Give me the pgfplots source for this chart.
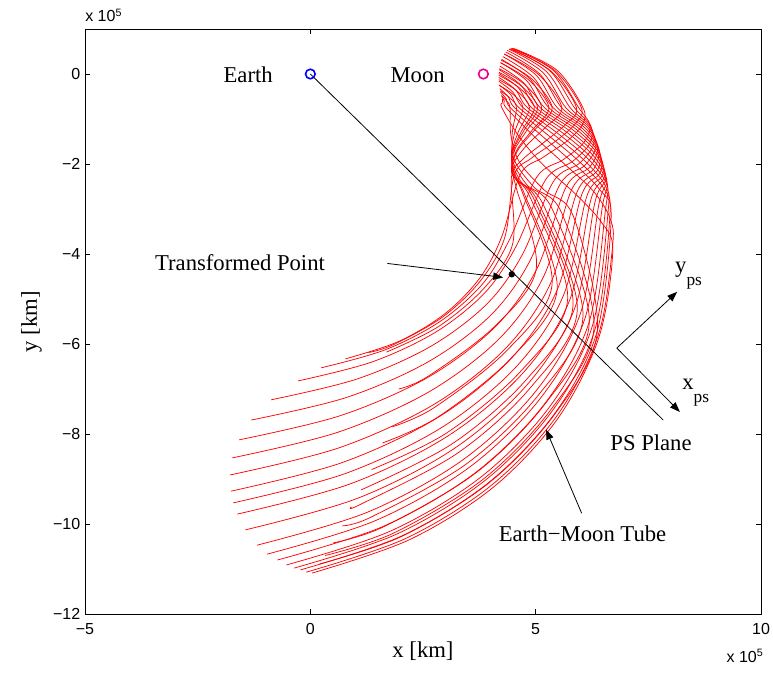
\documentclass[border=0pt]{standalone}
\usepackage{fontspec}
\setmainfont{Liberation Serif}
\setsansfont{Liberation Sans}
\usepackage{pgfplots}
\pgfplotsset{compat=1.18}
\usetikzlibrary{arrows.meta}

\pgfplotsset{
  orb/.style={red, line width=0.55pt, smooth, tension=0.55, no markers},
  ann/.style={black, line width=0.6pt, no markers},
  annarrow/.style={black, line width=0.6pt, no markers, -{Triangle[length=7.5pt,width=5.5pt]}},
}
\newcommand{\lbl}{\fontsize{17}{20}\selectfont}
\newcommand{\sub}[1]{\raisebox{-9.5pt}{\fontsize{13}{13}\selectfont #1}}

\begin{document}
\begin{tikzpicture}
\begin{axis}[
  at={(0pt,0pt)}, anchor=south west,
  scale only axis, width=507pt, height=438.75pt,
  xmin=-5, xmax=10, ymin=-12, ymax=1,
  xtick={-5,0,5,10}, xticklabels={−5,0,5,10},
  ytick={-12,-10,-8,-6,-4,-2,0}, yticklabels={−12,−10,−8,−6,−4,−2,0},
  tick align=inside, major tick length=4pt,
  every tick/.style={black, line width=0.5pt},
  axis line style={black, line width=0.6pt},
  tick label style={font=\fontsize{12}{14}\selectfont\sffamily},
  xticklabel style={yshift=-3.5pt},
  clip=false,
]
% Earth-Moon tube trajectories (units of 1e5 km): outer family
\addplot[orb] coordinates {(4.527,0.562) (5.469,0.086) (6.05,-0.75) (6.04,-1.12) (5.695,-1.49) (5.152,-1.86) (4.66,-2.23) (4.253,-3.6) (3.761,-4.532) (2.982,-5.33) (1.963,-5.942) (0.78,-6.33)};
\addplot[orb] coordinates {(4.487,0.57) (5.391,0.08) (5.955,-0.75) (6.205,-1.134) (6.072,-1.518) (5.615,-1.902) (5.027,-2.286) (4.408,-3.704) (3.818,-4.67) (2.883,-5.496) (1.66,-6.129) (0.24,-6.53)};
\addplot[orb] coordinates {(4.448,0.566) (5.316,0.069) (5.861,-0.75) (6.223,-1.148) (6.201,-1.546) (5.816,-1.944) (5.226,-2.342) (4.564,-3.833) (3.88,-4.853) (2.796,-5.727) (1.377,-6.396) (-0.27,-6.82)};
\addplot[orb] coordinates {(4.409,0.552) (5.24,0.053) (5.766,-0.75) (6.212,-1.162) (6.284,-1.574) (5.969,-1.986) (5.388,-2.398) (4.713,-3.997) (3.923,-5.105) (2.67,-6.053) (1.032,-6.779) (-0.87,-7.24)};
\addplot[orb] coordinates {(4.371,0.526) (5.163,0.03) (5.67,-0.75) (6.186,-1.176) (6.339,-1.602) (6.094,-2.028) (5.539,-2.454) (4.865,-4.169) (3.991,-5.372) (2.606,-6.401) (0.793,-7.19) (-1.31,-7.69)};
\addplot[orb] coordinates {(4.335,0.489) (5.089,0.002) (5.577,-0.75) (6.149,-1.19) (6.377,-1.63) (6.2,-2.07) (5.675,-2.51) (5.023,-4.338) (4.088,-5.633) (2.607,-6.742) (0.669,-7.591) (-1.58,-8.13)};
\addplot[orb] coordinates {(4.302,0.443) (5.015,-0.031) (5.481,-0.75) (6.101,-1.204) (6.399,-1.658) (6.289,-2.112) (5.8,-2.566) (5.178,-4.497) (4.2,-5.874) (2.65,-7.053) (0.623,-7.957) (-1.73,-8.53)};
\addplot[orb] coordinates {(4.272,0.387) (4.944,-0.068) (5.388,-0.75) (6.048,-1.218) (6.41,-1.686) (6.367,-2.154) (5.918,-2.622) (5.331,-4.65) (4.324,-6.105) (2.729,-7.35) (0.642,-8.305) (-1.78,-8.91)};
\addplot[orb] coordinates {(4.245,0.324) (4.873,-0.109) (5.292,-0.75) (5.988,-1.232) (6.406,-1.714) (6.434,-2.196) (6.023,-2.678) (5.478,-4.797) (4.453,-6.325) (2.83,-7.633) (0.705,-8.635) (-1.76,-9.27)};
\addplot[orb] coordinates {(4.222,0.253) (4.805,-0.154) (5.197,-0.75) (5.922,-1.246) (6.394,-1.742) (6.488,-2.238) (6.129,-2.734) (5.617,-4.918) (4.58,-6.493) (2.936,-7.842) (0.786,-8.875) (-1.71,-9.53)};
\addplot[orb] coordinates {(4.204,0.176) (4.739,-0.202) (5.103,-0.75) (5.85,-1.26) (6.371,-1.77) (6.529,-2.28) (6.225,-2.79) (5.75,-5.037) (4.707,-6.657) (3.054,-8.043) (0.891,-9.106) (-1.62,-9.78)};
\addplot[orb] coordinates {(4.191,0.095) (4.676,-0.252) (5.008,-0.75) (5.768,-1.274) (6.336,-1.798) (6.559,-2.322) (6.316,-2.846) (5.875,-5.182) (4.839,-6.872) (3.199,-8.318) (1.052,-9.427) (-1.44,-10.13)};
\addplot[orb] coordinates {(4.183,0.012) (4.614,-0.303) (4.912,-0.75) (5.683,-1.288) (6.288,-1.826) (6.578,-2.364) (6.401,-2.902) (5.992,-5.324) (4.976,-7.082) (3.368,-8.586) (1.263,-9.739) (-1.18,-10.47)};
\addplot[orb] coordinates {(4.18,-0.074) (4.557,-0.355) (4.819,-0.75) (5.588,-1.302) (6.229,-1.854) (6.583,-2.406) (6.478,-2.958) (6.094,-5.429) (5.095,-7.219) (3.513,-8.751) (1.443,-9.925) (-0.96,-10.67)};
\addplot[orb] coordinates {(4.182,-0.161) (4.5,-0.409) (4.723,-0.75) (5.486,-1.316) (6.158,-1.882) (6.575,-2.448) (6.549,-3.014) (6.185,-5.515) (5.206,-7.32) (3.655,-8.865) (1.626,-10.049) (-0.73,-10.8)};
\addplot[orb] coordinates {(4.19,-0.245) (4.448,-0.46) (4.63,-0.75) (5.381,-1.33) (6.068,-1.91) (6.549,-2.49) (6.606,-3.07) (6.259,-5.596) (5.298,-7.411) (3.775,-8.964) (1.783,-10.155) (-0.53,-10.91)};
\addplot[orb] coordinates {(4.202,-0.326) (4.396,-0.51) (4.534,-0.75) (5.256,-1.344) (5.959,-1.938) (6.503,-2.532) (6.649,-3.126) (6.318,-5.666) (5.372,-7.481) (3.874,-9.034) (1.915,-10.225) (-0.36,-10.98)};
\addplot[orb] coordinates {(4.22,-0.403) (4.349,-0.558) (4.439,-0.75) (5.119,-1.358) (5.82,-1.966) (6.424,-2.574) (6.675,-3.182) (6.361,-5.728) (5.429,-7.535) (3.953,-9.082) (2.022,-10.268) (-0.22,-11.02)};
\addplot[orb] coordinates {(4.242,-0.475) (4.304,-0.603) (4.345,-0.75) (4.949,-1.372) (5.63,-1.994) (6.291,-2.616) (6.662,-3.238) (6.703,-3.86) (6.391,-5.792) (5.473,-7.595) (4.02,-9.138) (2.118,-10.32) (-0.09,-11.07)};
\addplot[orb] coordinates {(4.268,-0.54) (4.259,-0.645) (4.25,-0.75) (4.628,-1.386) (5.168,-2.022) (5.874,-2.658) (6.457,-3.294) (6.71,-3.93) (6.404,-5.849) (5.503,-7.639) (4.075,-9.171) (2.208,-10.345) (0.04,-11.09)};
% inner family (shorter trajectories)
\addplot[orb] coordinates {(4.47,0.569) (5.418,0.085) (6.014,-0.75) (5.862,-1.125) (5.433,-1.5) (4.899,-1.875) (4.523,-2.25) (4.312,-3.64) (3.783,-4.585) (2.945,-5.393) (1.848,-6.013) (1.29,-6.19)};
\addplot[orb] coordinates {(4.425,0.559) (5.332,0.07) (5.906,-0.75) (5.639,-1.141) (5.167,-1.532) (4.686,-1.923) (4.46,-2.314) (4.49,-3.771) (3.85,-4.765) (2.838,-5.616) (1.69,-6.18)};
\addplot[orb] coordinates {(4.302,0.443) (5.075,-0.021) (5.582,-0.75) (5.212,-1.189) (4.763,-1.628) (4.479,-2.067) (4.563,-2.506) (5.013,-4.328) (4.081,-5.618) (2.606,-6.722) (1.96,-7.0)};
\addplot[orb] coordinates {(4.238,0.305) (4.914,-0.111) (5.366,-0.75) (4.998,-1.221) (4.606,-1.692) (4.462,-2.163) (4.706,-2.634) (5.364,-4.682) (4.353,-6.153) (2.751,-7.412) (1.82,-7.84)};
\addplot[orb] coordinates {(4.221,0.25) (4.862,-0.146) (5.294,-0.75) (4.935,-1.232) (4.57,-1.714) (4.473,-2.196) (4.756,-2.678) (5.476,-4.794) (4.451,-6.319) (2.828,-7.625) (1.6,-8.2)};
\addplot[orb] coordinates {(4.194,0.116) (4.751,-0.229) (5.132,-0.75) (4.801,-1.256) (4.503,-1.762) (4.519,-2.268) (4.893,-2.774) (5.71,-5.0) (4.668,-6.606) (3.018,-7.981) (1.36,-8.79)};
\addplot[orb] coordinates {(4.185,0.038) (4.693,-0.277) (5.042,-0.75) (4.73,-1.269) (4.478,-1.788) (4.559,-2.307) (4.983,-2.826) (5.83,-5.13) (4.791,-6.794) (3.146,-8.219) (1.13,-9.24)};
\addplot[orb] coordinates {(4.181,-0.028) (4.648,-0.317) (4.97,-0.75) (4.68,-1.28) (4.466,-1.81) (4.597,-2.34) (5.065,-2.87) (5.924,-5.239) (4.896,-6.956) (3.267,-8.425) (1.137,-9.552) (0.91,-9.62)};
\addplot[orb] coordinates {(4.181,-0.125) (4.583,-0.377) (4.862,-0.75) (4.611,-1.296) (4.462,-1.842) (4.67,-2.388) (5.184,-2.934) (6.05,-5.381) (5.043,-7.156) (3.448,-8.675) (1.361,-9.84) (0.71,-10.04)};
\addplot[orb] coordinates {(4.191,-0.255) (4.502,-0.456) (4.718,-0.75) (4.529,-1.317) (4.478,-1.884) (4.795,-2.451) (5.375,-3.018) (6.19,-5.521) (5.211,-7.327) (3.661,-8.873) (1.634,-10.058) (0.51,-10.42)};
\addplot[orb] coordinates {(4.213,-0.376) (4.426,-0.531) (4.574,-0.75) (4.478,-1.338) (4.533,-1.926) (4.961,-2.514) (5.583,-3.102) (6.294,-5.637) (5.342,-7.452) (3.834,-9.005) (1.86,-10.196) (0.33,-10.7)};
\addplot[orb] coordinates {(4.245,-0.486) (4.356,-0.6) (4.43,-0.75) (4.45,-1.359) (4.645,-1.968) (5.189,-2.577) (5.846,-3.186) (6.367,-5.734) (5.436,-7.541) (3.961,-9.088) (2.032,-10.273) (0.2,-10.89)};

% primaries
\addplot[blue, only marks, mark=o, mark size=3.6pt, line width=1.2pt] coordinates {(0,0)};
\addplot[magenta, only marks, mark=o, mark size=3.6pt, line width=1.2pt] coordinates {(3.84,0)};

% Poincare section and the transformed point on it
\addplot[ann] coordinates {(0,0) (7.83,-7.69)};
\addplot[black, only marks, mark=*, mark size=2.2pt] coordinates {(4.47,-4.45)};
\addplot[annarrow] coordinates {(1.71,-4.21) (4.28,-4.52)};

% section frame axes and tube pointer
\addplot[annarrow] coordinates {(6.8,-6.09) (8.14,-4.84)};
\addplot[annarrow] coordinates {(6.8,-6.09) (8.2,-7.51)};
\addplot[annarrow] coordinates {(6.02,-9.76) (5.23,-7.9)};

\node[anchor=base, font=\lbl] at (axis cs:-1.38,-0.18) {Earth};
\node[anchor=base, font=\lbl] at (axis cs:2.38,-0.18) {Moon};
\node[anchor=base, font=\lbl] at (axis cs:-1.56,-4.36) {Transformed Point};
\node[anchor=base west, font=\lbl, inner sep=0pt] at (axis cs:8.09,-4.42) {y\sub{ps}};
\node[anchor=base west, font=\lbl, inner sep=0pt] at (axis cs:8.25,-7.02) {x\sub{ps}};
\node[anchor=base, font=\lbl] at (axis cs:7.56,-8.37) {PS Plane};
\node[anchor=base, font=\lbl] at (axis cs:6.04,-10.39) {Earth−Moon Tube};
\end{axis}

\node[anchor=base, font=\lbl] at (253.5pt,-32.25pt) {x [km]};
\node[anchor=base, rotate=90, font=\lbl] at (-36pt,219.4pt) {y [km]};
\node[anchor=base west, inner sep=0pt, font=\fontsize{12}{14}\selectfont\sffamily] at (0pt,444pt) {x 10\textsuperscript{5}};
\node[anchor=base east, inner sep=0pt, font=\fontsize{12}{14}\selectfont\sffamily] at (509pt,-36pt) {x 10\textsuperscript{5}};

\pgfresetboundingbox
\path[use as bounding box] (-63.75pt,-43.5pt) rectangle (516pt,460.5pt);
\end{tikzpicture}
\end{document}
